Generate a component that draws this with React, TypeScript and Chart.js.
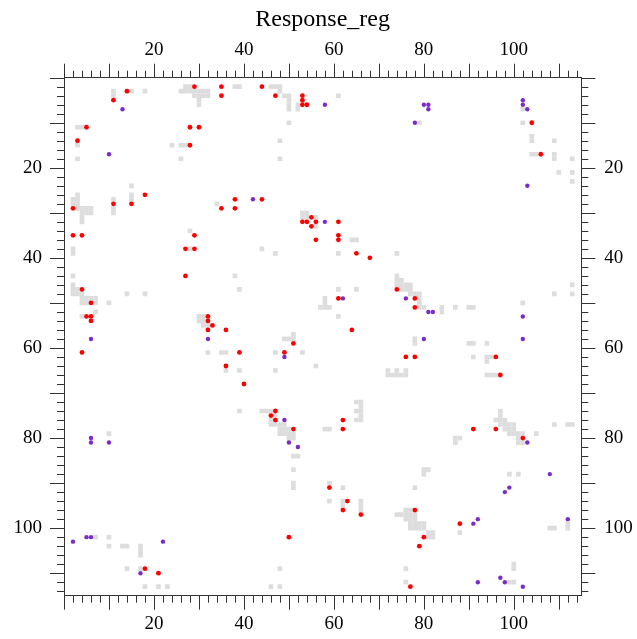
import React, { useEffect, useRef } from "react";
import { Chart, registerables } from "chart.js";
Chart.register(...registerables);

const FONT = "'Liberation Serif', 'Times New Roman', serif";
const titleText = "Response_reg";
const axisMin = 0;
const axisMax = 115;
const tickLabels = [20, 40, 60, 80, 100];
const minorStep = 2;
const majorStep = 10;
const lastTick = 114;

const grayCells: [number, number][] = [
  [11,3],[11,4],[14,3],[15,3],[18,3],
  [27,2],[28,2],[26,3],[27,3],[28,3],[29,3],[30,3],[31,3],[32,3],[29,4],[30,4],[31,4],[32,4],[30,5],[30,6],
  [38,2],[39,2],
  [3,11],[4,11],[3,15],[3,18],[24,15],[26,15],[27,15],[26,18],[15,24],[3,26],[15,26],[15,27],
  [2,27],[3,27],[2,28],[3,28],[3,29],[4,29],[5,29],[6,29],[4,30],[5,30],[6,30],[4,31],[4,32],
  [11,27],[11,29],[11,30],[34,28],[2,38],[2,39],[28,34],[28,38],[2,44],[38,44],
  [2,46],[2,47],[2,48],[3,47],[3,48],[4,48],[4,49],[5,49],[6,49],[7,49],[4,50],[5,50],[7,50],[10,50],[14,48],[18,48],[7,52],[4,53],
  [30,53],[31,53],[30,54],[31,54],[31,55],[32,55],
  [32,61],[35,61],[36,61],[36,65],[10,79],
  [46,2],[47,2],[48,2],[48,3],[49,4],[50,4],[50,5],[50,6],[50,7],[52,6],[52,7],[50,10],[48,14],[48,18],[61,4],
  [79,10],[102,7],[102,10],[104,13],[104,14],[104,17],[105,17],[109,14],[109,17],[109,18],[113,18],[110,21],[113,21],[113,23],
  [53,30],[54,30],[53,31],[54,31],[56,31],[56,33],[64,36],[65,36],[44,38],[47,39],[61,39],[74,39],[39,47],[61,47],[65,47],
  [74,44],[74,45],[75,45],[74,46],[75,46],[76,46],[77,46],[75,47],[76,47],[77,47],
  [58,49],[58,50],[57,51],[58,51],[59,51],[61,53],
  [77,48],[78,48],[79,48],[79,49],[79,50],[79,51],[80,51],[84,51],[84,52],[87,51],[90,51],[91,51],[102,50],[109,48],[113,48],[113,46],
  [49,58],[50,58],[51,57],[51,58],[47,61],[53,61],[56,64],[39,65],[47,65],
  [72,65],[74,65],[76,65],[72,66],[73,66],[74,66],[75,66],[76,66],
  [39,74],[44,74],[45,74],[46,74],[47,75],[46,76],[47,76],
  [46,77],[47,77],[48,77],[49,77],[48,78],[49,78],[50,78],[48,79],[49,79],[50,79],[51,79],[50,80],[51,80],[51,84],[52,84],
  [58,78],[59,78],[65,72],[66,72],[66,73],[65,74],[66,74],[66,75],[65,76],[66,76],
  [78,58],[78,59],[90,59],[91,59],[94,59],[91,62],[94,62],[95,62],[94,63],[94,66],[95,66],[96,66],
  [97,74],[97,75],[96,76],[97,76],[98,76],[97,77],[98,77],[99,77],[100,77],[98,78],[99,78],[100,78],[99,79],[100,79],[101,79],[102,79],[101,80],[101,81],[102,81],[105,79],
  [87,80],[88,80],[87,81],[109,77],[112,77],[113,77],
  [51,87],[51,90],[51,91],[59,90],[62,91],[62,94],[62,95],[59,94],[66,94],[66,95],[66,96],[48,109],[46,113],[48,113],
  [74,97],[75,97],[76,96],[76,97],[76,98],
  [80,87],[81,87],[80,88],[78,91],
  [77,96],[77,97],[78,97],[77,98],[78,98],[77,99],[78,99],[79,99],[80,99],[77,100],[78,100],[79,100],[80,100],[81,101],[82,101],[81,102],[82,102],
  [88,101],[76,109],[76,112],[99,88],[101,88],[108,100],[109,100],[112,99],[112,100],[100,108],[100,109],[99,112],[100,112],
  [7,102],[10,102],[10,104],[13,104],[14,104],[17,104],[17,105],[17,106],[14,109],[17,109],[18,113],[21,113],[23,113],
];

const redPoints: [number, number][] = [
  [11,5],[14,3],[29,2],[35,2],[35,4],[5,11],[3,14],[28,11],[30,11],[28,15],[18,26],[2,29],[11,28],[15,28],
  [35,29],[38,27],[38,29],[44,27],[2,35],[4,35],[29,35],[27,38],[29,38],[27,44],[4,47],[6,50],[5,53],[6,53],
  [6,54],[32,53],[32,54],[33,55],[32,56],[36,56],[4,61],[36,64],[44,2],[47,4],[53,4],[53,5],[53,6],[54,6],
  [53,32],[54,32],[55,31],[56,32],[55,33],[61,32],[56,36],[61,35],[61,36],[65,39],[68,40],[74,47],[61,49],
  [64,56],[78,49],[78,51],[104,10],[106,17],[51,59],[39,61],[49,61],[40,68],[76,62],[78,62],[96,62],[97,66],
  [47,74],[46,75],[47,76],[51,78],[62,76],[62,78],[91,78],[96,78],[102,80],[18,109],[21,110],[59,91],[63,94],
  [62,96],[66,97],[50,102],[78,96],[80,102],[79,104],[77,113],[88,99],
];

const purplePoints: [number, number][] = [
  [13,7],[10,17],[42,27],[58,6],[80,6],[81,6],[81,7],[78,10],[102,5],[102,6],[103,7],[103,24],[58,32],[62,49],
  [76,49],[81,52],[82,52],[102,53],[6,58],[32,58],[49,62],[80,58],[102,58],[49,76],[50,81],[52,82],[103,81],
  [6,80],[6,81],[10,81],[2,103],[5,102],[6,102],[22,103],[17,110],[91,99],[92,98],[98,92],[99,91],[108,88],
  [112,98],[97,111],[98,112],[92,112],[102,113],
];

const toXY = (arr: [number, number][]) => arr.map(([x, y]) => ({ x, y }));

const tickPlugin = {
  id: "frameTicks",
  afterDraw(chart: any) {
    const { ctx, chartArea, scales } = chart;
    const { left, right, top, bottom } = chartArea;
    ctx.save();
    ctx.strokeStyle = "#333";
    ctx.lineWidth = 1;
    ctx.beginPath();
    for (let v = axisMin; v <= lastTick; v += minorStep) {
      const len = v % majorStep === 0 ? 14 : 7;
      const px = Math.round(scales.x.getPixelForValue(v)) + 0.5;
      const py = Math.round(scales.y.getPixelForValue(v)) + 0.5;
      ctx.moveTo(px, top);
      ctx.lineTo(px, top - len);
      ctx.moveTo(px, bottom);
      ctx.lineTo(px, bottom + len);
      ctx.moveTo(left, py);
      ctx.lineTo(left - len, py);
      ctx.moveTo(right, py);
      ctx.lineTo(right + len, py);
    }
    ctx.stroke();
    ctx.restore();
  },
};

const setTicks = (s: any) => {
  s.ticks = tickLabels.map((v) => ({ value: v }));
};

const axisCommon = (padding: number) => ({
  type: "linear" as const,
  min: axisMin,
  max: axisMax,
  afterBuildTicks: setTicks,
  grid: { display: true, drawOnChartArea: false, drawTicks: true, tickLength: 14, color: "rgba(0,0,0,0)" },
  border: { display: true, color: "#333", width: 1 },
  ticks: { font: { family: FONT, size: 19 }, color: "#000", padding, maxRotation: 0, autoSkip: false },
});

export default function App() {
  const ref = useRef<HTMLCanvasElement | null>(null);
  useEffect(() => {
    if (!ref.current) return;
    const cellRadius = (c: any) => {
      const s = c.chart.scales.x;
      return (Math.abs(s.getPixelForValue(1) - s.getPixelForValue(0)) * 1.04) / Math.SQRT2;
    };
    const chart = new Chart(ref.current, {
      type: "scatter",
      data: {
        datasets: [
          {
            label: "red",
            data: toXY(redPoints),
            backgroundColor: "#FF0000",
            pointRadius: 2.4,
            pointBorderWidth: 0,
            order: 0,
          },
          {
            label: "purple",
            data: toXY(purplePoints),
            backgroundColor: "#7B2CC8",
            pointRadius: 2.2,
            pointBorderWidth: 0,
            order: 1,
          },
          {
            label: "reference",
            data: toXY(grayCells),
            backgroundColor: "#DDDDDD",
            pointStyle: "rect",
            pointRadius: cellRadius,
            pointBorderWidth: 0,
            order: 2,
          },
        ],
      },
      options: {
        responsive: false,
        animation: false,
        events: [],
        layout: { padding: 0 },
        plugins: { legend: { display: false }, tooltip: { enabled: false }, title: { display: false } },
        scales: {
          x: {
            ...axisCommon(2.6),
            axis: "x",
            position: "bottom",
            afterFit: (s: any) => { s.height = 43.3; },
          },
          x2: {
            ...axisCommon(2.6),
            axis: "x",
            position: "top",
            title: { display: true, text: titleText, font: { family: FONT, size: 24 }, color: "#000", padding: { top: 5.5, bottom: 0 } },
            afterFit: (s: any) => { s.height = 77.7; },
          },
          y: {
            ...axisCommon(8),
            axis: "y",
            position: "left",
            reverse: true,
            afterFit: (s: any) => { s.width = 64; },
          },
          y2: {
            ...axisCommon(9),
            axis: "y",
            position: "right",
            reverse: true,
            afterFit: (s: any) => { s.width = 55.7; },
          },
        } as any,
      },
      plugins: [tickPlugin],
    });
    return () => chart.destroy();
  }, []);
  return (
    <div style={{ position: "absolute", left: 0, top: 0, width: 637, height: 639, background: "#fff" }}>
      <canvas ref={ref} width={637} height={639} style={{ display: "block" }} />
    </div>
  );
}
